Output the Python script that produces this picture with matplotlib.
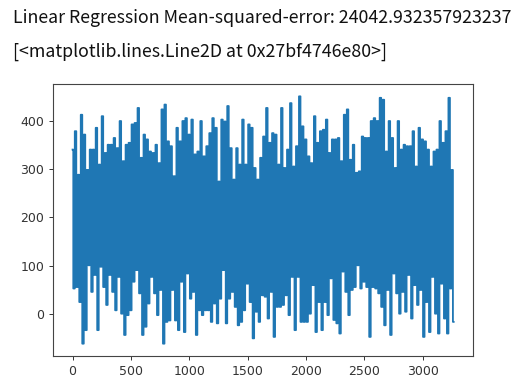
import matplotlib
matplotlib.use("Agg")
import matplotlib.pyplot as plt
import numpy as np

# notebook output text above the plot
title_line = "Linear Regression Mean-squared-error: 24042.932357923237"
repr_line = "[<matplotlib.lines.Line2D at 0x27bf4746e80>]"

n_samples = 3266  # x runs over the sample index 0..3265

# upper envelope of the dense line (left to right)
peaks = [
    340, 378, 288, 412, 371, 298, 340, 340, 385, 309, 409, 333, 350, 350, 364,
    343, 399, 316, 350, 354, 392, 395, 426, 323, 371, 361, 336, 333, 350, 312,
    423, 433, 357, 347, 285, 385, 357, 399, 405, 371, 402, 330, 336,
    399, 326, 347, 374, 405, 385, 274, 402, 398, 430, 343, 278, 343, 309, 402,
    309, 392, 385, 302, 278, 323, 367, 426, 354, 374, 371, 309, 426, 302, 340,
    436, 305, 347, 450, 388, 361, 326, 312, 409, 354, 378, 381, 402,
    333, 361, 361, 364, 316, 412, 423, 319, 350, 292, 295, 367, 364, 364, 399,
    405, 399, 447, 443, 336, 399, 364, 302, 399, 340, 350, 347, 347, 378, 305,
    385, 361, 357, 340, 305, 336, 340, 399, 354, 378, 447, 298,
]

# lower envelope (same columns)
troughs = [
    53, 56, 25, -61, -33, 101, 46, 81, -33, 98, 56, 19, 81, 46, 8,
    77, 1, -43, -2, 8, 67, 91, 43, -43, -26, 22, 77, 43, -2, 50,
    -61, -16, -13, 50, -13, -33, 67, -37, 84, 32, 46, -43, 8,
    -2, 8, 8, -16, 22, -19, 32, 91, -19, 32, 46, 15, -23, -16, 8,
    63, 25, -50, 5, -16, 39, 36, -9, 46, -47, 15, 15, 19, 39, -2,
    77, -33, 77, -16, -16, -16, 1, 60, -37, 25, -33, 25, -2,
    74, -12, -19, -40, 88, 46, -2, 50, 56, 101, 53, 67, 56, -47, 56,
    53, 43, 15, -23, 50, -43, 84, 43, 1, 46, 5, 81, -9, 60, 19,
    50, -47, 25, -37, 77, 1, -40, 63, -9, -40, 53, -16,
]

plt.rcParams["path.simplify"] = False

y = np.column_stack([peaks, troughs]).ravel()
x = np.linspace(0, n_samples - 1, len(y))

fig = plt.figure(figsize=(5.27, 3.87), dpi=100)
ax = fig.add_axes([0.1015, 0.080, 0.7955, 0.703])

ax.plot(x, y, color="#1f77b4", linewidth=1.3, drawstyle="steps-mid", snap=False)

ax.tick_params(axis="both", which="major", labelsize=9, length=3.2, width=0.7,
               colors="#333333")
for side in ["top", "bottom", "left", "right"]:
    ax.spines[side].set_linewidth(0.8)
    ax.spines[side].set_color("#444444")

fig.text(13 / 527, 1 - 18 / 387, title_line, fontsize=12.8,
         family=["Noto Sans CJK TC", "DejaVu Sans"], va="center", ha="left",
         color="#111111")
fig.text(13 / 527, 1 - 52 / 387, repr_line, fontsize=12.8,
         family=["Noto Sans CJK TC", "DejaVu Sans"], va="center", ha="left",
         color="#111111")

fig.savefig("out.png", dpi=100)
